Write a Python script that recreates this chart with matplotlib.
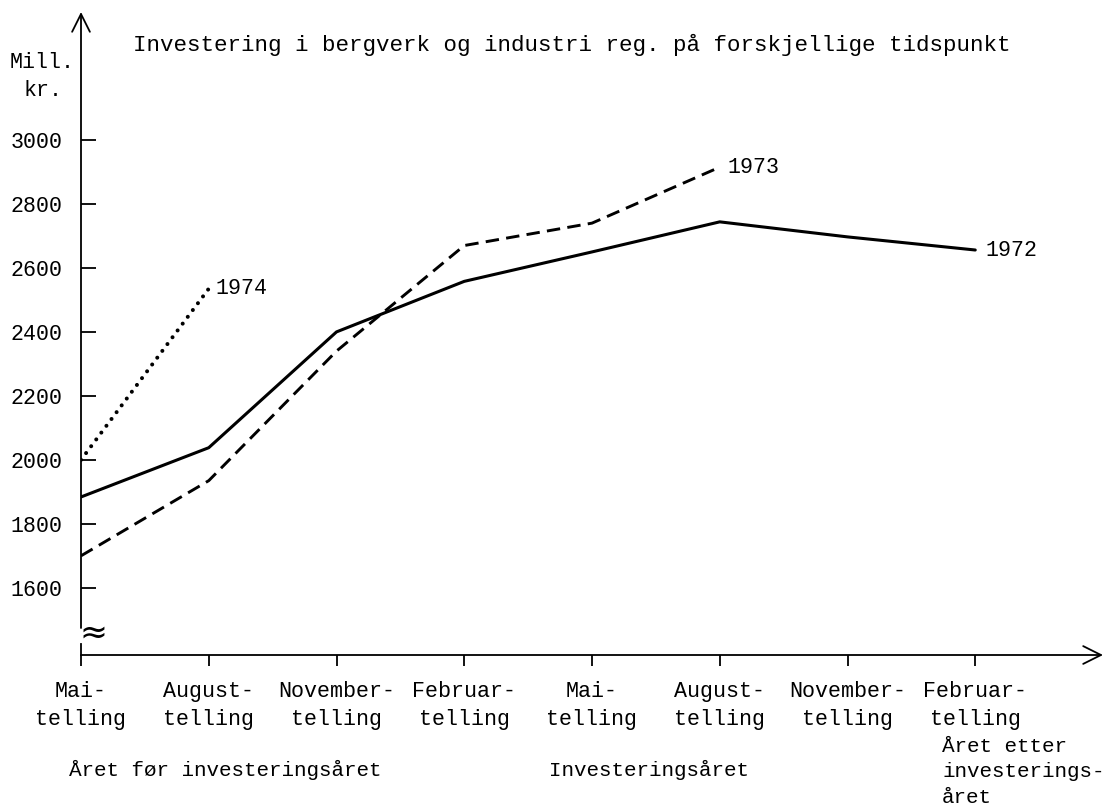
import numpy as np
import matplotlib
matplotlib.use("Agg")
import matplotlib.pyplot as plt

plt.rcParams['font.family'] = ['Liberation Mono', 'DejaVu Sans Mono']

# tellinger (survey rounds) on the x axis
tellinger = ["Mai-\ntelling", "August-\ntelling", "November-\ntelling", "Februar-\ntelling",
             "Mai-\ntelling", "August-\ntelling", "November-\ntelling", "Februar-\ntelling"]
x_pos = np.arange(len(tellinger))

# investment registered at each round, mill. kr.
inv_1972 = [1884, 2038, 2400, 2558, 2650, 2744, 2697, 2656]
inv_1973 = [1700, 1935, 2340, 2670, 2740, 2915]
inv_1974 = [2000, 2535]

y_ticks = [1600, 1800, 2000, 2200, 2400, 2600, 2800, 3000]

FS = 15.6        # general text
FS_TITLE = 16.2
FS_LOW = 15.0    # period captions under the axis


def px_y(p):
    # pixel row in the figure -> axes fraction (axes spans rows 12..655)
    return (655 - p) / 643.0


def px_x(p):
    # pixel column -> axes fraction (axes spans cols 81..1103)
    return (p - 81) / 1022.0


fig = plt.figure(figsize=(11.15, 8.09), dpi=100)
ax = fig.add_axes([81 / 1115, (809 - 655) / 809, 1022 / 1115, 643 / 809])

ax.plot(x_pos, inv_1972, color='black', lw=2.2, solid_capstyle='round', solid_joinstyle='round')
ax.plot(x_pos[:len(inv_1973)], inv_1973, color='black', lw=2.1, linestyle=(0, (4.6, 2.5)))
ax.plot(x_pos[:len(inv_1974)], inv_1974, color='black', lw=2.9, linestyle=(0, (0.01, 2.1)),
        dash_capstyle='round')

ax.text(x_pos[len(inv_1974) - 1] + 0.05, inv_1974[-1], "1974", fontsize=FS, va='center', ha='left')
ax.text(x_pos[len(inv_1973) - 1] + 0.06, inv_1973[-1], "1973", fontsize=FS, va='center', ha='left')
ax.text(x_pos[len(inv_1972) - 1] + 0.08, inv_1972[-1], "1972", fontsize=FS, va='center', ha='left')

ax.set_xlim(0, 8)
ax.set_ylim(1390, 3400)
for s in ax.spines.values():
    s.set_visible(False)

# axes drawn as arrows, with a break mark on the y axis
ax.annotate('', xy=(1.0, 0), xytext=(0, 0), xycoords='axes fraction',
            arrowprops=dict(arrowstyle='->', lw=1.3, color='black', mutation_scale=32,
                            shrinkA=0, shrinkB=0))
ax.annotate('', xy=(0, 1.0), xytext=(0, px_y(628)), xycoords='axes fraction',
            arrowprops=dict(arrowstyle='->', lw=1.3, color='black', mutation_scale=32,
                            shrinkA=0, shrinkB=0))
ax.plot([0, 0], [0, px_y(644)], transform=ax.transAxes, color='black', lw=1.3, clip_on=False)
ax.text(px_x(93), px_y(633), "≈", transform=ax.transAxes, fontsize=24, ha='center', va='center',
        family='DejaVu Sans')

ax.set_yticks(y_ticks)
ax.set_yticklabels([str(v) for v in y_ticks], fontsize=FS)
ax.tick_params(axis='y', direction='in', length=11, width=1.3, pad=13)

ax.set_xticks(x_pos)
ax.set_xticklabels(tellinger, fontsize=FS, linespacing=1.4, multialignment='center')
ax.tick_params(axis='x', direction='out', length=8, width=1.3, pad=11)

ax.text(px_x(133), px_y(45), "Investering i bergverk og industri reg. på forskjellige tidspunkt",
        transform=ax.transAxes, fontsize=FS_TITLE, ha='left', va='center')
ax.text(px_x(75), px_y(62), "Mill.", transform=ax.transAxes, fontsize=FS, ha='right', va='center')
ax.text(px_x(63), px_y(90), "kr.", transform=ax.transAxes, fontsize=FS, ha='right', va='center')

xt = ax.get_xaxis_transform()
ax.text(1.13, px_y(770), "Året før investeringsåret", transform=xt, fontsize=FS_LOW,
        ha='center', va='center')
ax.text(3.66, px_y(770), "Investeringsåret", transform=xt, fontsize=FS_LOW, ha='left', va='center')
ax.text(6.74, px_y(737), "Året etter\ninvesterings-\nåret", transform=xt, fontsize=FS_LOW,
        ha='left', va='top', linespacing=1.42)

fig.savefig("out.png", dpi=100)
